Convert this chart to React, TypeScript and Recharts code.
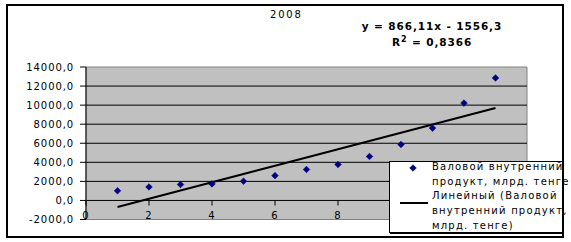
import { ScatterChart, Scatter, XAxis, YAxis, CartesianGrid, ReferenceLine, ReferenceArea } from "recharts";

const YEAR_INDEX = [1, 2, 3, 4, 5, 6, 7, 8, 9, 10, 11, 12, 13];
const GDP = [1014.2, 1415.8, 1672.1, 1733.3, 2016.5, 2599.9, 3250.6, 3776.3, 4611.9, 5870.1, 7590.6, 10213.7, 12849.8];
// ticks 10..14 sit under the legend box in the original
const X_TICKS = [0, 2, 4, 6, 8];
const Y_TICKS = [-2000, 0, 2000, 4000, 6000, 8000, 10000, 12000, 14000];
const GRID_LINES = [0, 2000, 4000, 6000, 8000, 10000, 12000];
const TREND_SLOPE = 866.11;
const TREND_INTERCEPT = -1556.3;

const TITLE = "2008";
const EQUATION = "y = 866,11x - 1556,3";
const R_SQUARED = "0,8366";
const LEGEND_SERIES = ["Валовой внутренний", "продукт, млрд. тенге"];
const LEGEND_TREND = ["Линейный (Валовой", "внутренний продукт,", "млрд. тенге)"];

const points = YEAR_INDEX.map((x, i) => ({ x, y: GDP[i] }));
const trendX = [YEAR_INDEX[0], YEAR_INDEX[YEAR_INDEX.length - 1]];
const trend = trendX.map((x) => ({ x, y: TREND_SLOPE * x + TREND_INTERCEPT }));

const font = "'DejaVu Sans', Verdana, sans-serif";
const NAVY = "#000080";

const fmtY = (v: number) => v.toFixed(1).replace(".", ",");

function Diamond(props: any) {
  const { cx, cy } = props;
  if (cx == null || cy == null) return null;
  const r = 3.3;
  return <polygon points={`${cx},${cy - r} ${cx + r},${cy} ${cx},${cy + r} ${cx - r},${cy}`} fill={NAVY} stroke={NAVY} strokeWidth={0.6} />;
}

function XTick(props: any) {
  const { x, y, payload } = props;
  return (
    <g>
      <line x1={x} x2={x} y1={y - 19} y2={y - 14} stroke='#000' strokeWidth={1} />
      <text x={x} y={y - 0.5} textAnchor='middle' fontFamily={font} fontSize={10} letterSpacing={1.2} fill='#000'>
        {payload.value}
      </text>
    </g>
  );
}

function LegendBox() {
  const txt = {
    fontFamily: font,
    fontSize: 10,
    letterSpacing: 1.2,
    lineHeight: "15px",
    color: "#000",
    whiteSpace: "nowrap",
  } as const;
  return (
    <div
      style={{
        position: "absolute",
        zIndex: 10,
        left: 389,
        top: 161,
        width: 174,
        height: 72,
        background: "#ffffff",
        border: "1px solid #000",
        boxShadow: "1px 1px 0 #000",
        boxSizing: "border-box",
      }}
    >
      <svg width={30} height={14} style={{ position: "absolute", left: 8, top: 0 }}>
        <Diamond cx={15} cy={6} />
      </svg>
      <div style={{ ...txt, position: "absolute", left: 42, top: -3 }}>
        {LEGEND_SERIES.map((t, i) => (
          <div key={i}>{t}</div>
        ))}
      </div>
      <div style={{ position: "absolute", left: 10, top: 40, width: 28, height: 2, background: "#000" }} />
      <div style={{ ...txt, position: "absolute", left: 42, top: 26 }}>
        {LEGEND_TREND.map((t, i) => (
          <div key={i}>{t}</div>
        ))}
      </div>
    </div>
  );
}

export default function App() {
  return (
    <div style={{ position: "absolute", left: 0, top: 0, width: 571, height: 242, background: "#fff", overflow: "hidden" }}>
      <div
        style={{
          position: "absolute",
          left: 6,
          top: 4,
          width: 558,
          height: 234,
          border: "2px solid #000",
          boxSizing: "border-box",
        }}
      />
      <div style={{ position: "absolute", left: 270, top: 9, fontFamily: font, fontSize: 10, letterSpacing: 1.8 }}>{TITLE}</div>
      <div
        style={{
          position: "absolute",
          left: 352,
          top: 18,
          width: 160,
          textAlign: "center",
          fontFamily: font,
          fontSize: 10.5,
          fontWeight: "bold",
          letterSpacing: 0.9,
          lineHeight: "16px",
        }}
      >
        {EQUATION}
        <br />
        R<sup style={{ fontSize: 8, lineHeight: 0 }}>2</sup> = {R_SQUARED}
      </div>
      <div style={{ position: "absolute", left: 0, top: 0, zIndex: 0 }}>
        <ScatterChart width={571} height={242} margin={{ top: 67, right: 44, bottom: 12.5, left: 6 }}>
          <CartesianGrid horizontal={false} vertical={false} fill='#c0c0c0' />
          {GRID_LINES.map((v) => (
            <ReferenceLine key={v} y={v} stroke='#000' strokeWidth={1} />
          ))}
          <ReferenceArea x1={0} x2={14} y1={-2000} y2={14000} fill='none' stroke='#808080' strokeWidth={1} />
          <XAxis
            type='number'
            dataKey='x'
            domain={[0, 14]}
            ticks={X_TICKS}
            axisLine={false}
            tickLine={false}
            tickSize={0}
            tickMargin={0}
            height={10}
            tick={<XTick />}
            interval={0}
          />
          <YAxis
            type='number'
            dataKey='y'
            domain={[-2000, 14000]}
            ticks={Y_TICKS}
            interval={0}
            width={80}
            tickFormatter={fmtY}
            axisLine={{ stroke: "#000", strokeWidth: 1 }}
            tickLine={{ stroke: "#000" }}
            tickSize={6}
            tickMargin={6}
            tick={{ fontFamily: font, fontSize: 10, fill: "#000", letterSpacing: 0.9 }}
          />
          <Scatter data={trend} line={{ stroke: "#000", strokeWidth: 2 }} shape={() => null} isAnimationActive={false} />
          <Scatter data={points} fill={NAVY} shape={<Diamond />} isAnimationActive={false} />
        </ScatterChart>
      </div>
      <LegendBox />
    </div>
  );
}
